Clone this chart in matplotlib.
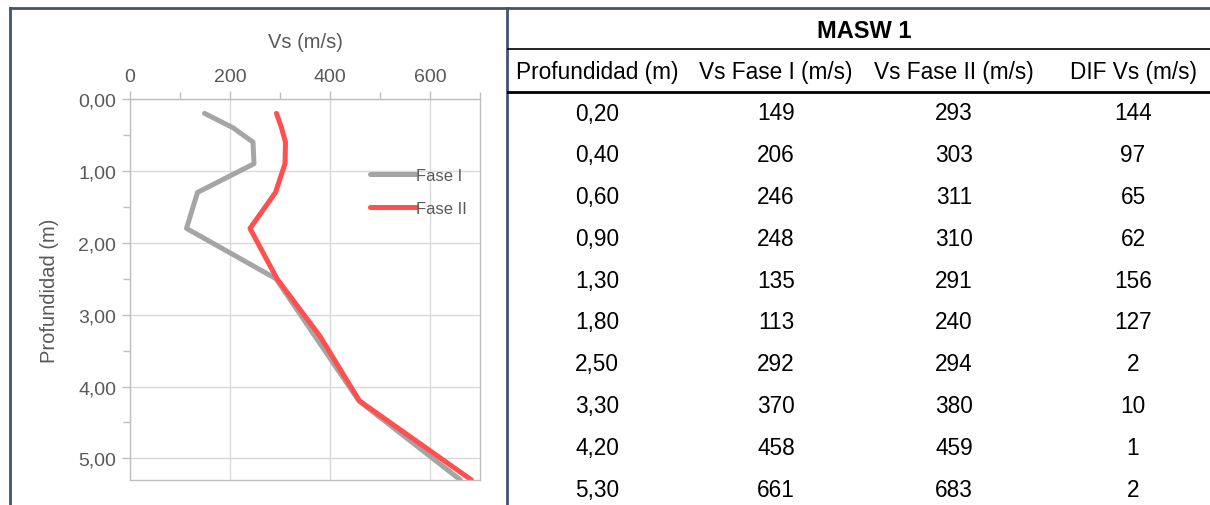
import matplotlib.pyplot as plt
from matplotlib.lines import Line2D
from matplotlib.ticker import FuncFormatter, MultipleLocator

# MASW 1 - velocidades de onda de corte por profundidad
profundidad = [0.20, 0.40, 0.60, 0.90, 1.30, 1.80, 2.50, 3.30, 4.20, 5.30]
vs_fase1 = [149, 206, 246, 248, 135, 113, 292, 370, 458, 661]
vs_fase2 = [293, 303, 311, 310, 291, 240, 294, 380, 459, 683]
dif_vs = [144, 97, 65, 62, 156, 127, 2, 10, 1, 2]

encabezados = ["Profundidad (m)", "Vs Fase I (m/s)", "Vs Fase II (m/s)", "DIF Vs (m/s)"]
titulo = "MASW 1"

W, H = 1210, 506
fig = plt.figure(figsize=(W / 100, H / 100), dpi=100)
plt.rcParams['font.family'] = ['Liberation Sans', 'DejaVu Sans']


def fx(px):
    return px / W


def fy(py):
    return 1 - py / H


gris_txt = "#595959"
gris_eje = "#BFBFBF"
azul = "#44546A"

ax = fig.add_axes([fx(130), fy(481), fx(480) - fx(130), fy(100) - fy(481)])
ax.plot(vs_fase1, profundidad, color="#A5A5A5", lw=3.6, label="Fase I", solid_capstyle="round")
ax.plot(vs_fase2, profundidad, color="#FF4F4F", lw=3.6, label="Fase II", solid_capstyle="round")

ax.set_xlim(0, 700)
ax.set_ylim(5.3, 0)
ax.xaxis.tick_top()
ax.xaxis.set_label_position("top")
ax.xaxis.set_major_locator(MultipleLocator(200))
ax.xaxis.set_minor_locator(MultipleLocator(100))
ax.yaxis.set_major_locator(MultipleLocator(1))
ax.yaxis.set_minor_locator(MultipleLocator(0.5))
ax.yaxis.set_major_formatter(FuncFormatter(lambda v, p: f"{v:.2f}".replace(".", ",")))
ax.grid(True, which="major", color="#D9D9D9", lw=1)
for s in ax.spines.values():
    s.set_color(gris_eje)
    s.set_linewidth(1)
ax.tick_params(which="both", colors=gris_eje, labelcolor=gris_txt, labelsize=14, width=1)
ax.tick_params(which="major", length=6, pad=4)
ax.tick_params(which="minor", length=5)
ax.set_xlabel("Vs (m/s)", color=gris_txt, fontsize=14.5, labelpad=15)
ax.set_ylabel("Profundidad (m)", color=gris_txt, fontsize=14.5, labelpad=14)

ax.legend(loc="center left", bbox_to_anchor=(fx(370), fy(193)), bbox_transform=fig.transFigure,
          frameon=False, fontsize=12, labelcolor=gris_txt, handlelength=2.75, handletextpad=0.0,
          borderpad=0, borderaxespad=0, labelspacing=1.05)

# marco del gráfico y de la tabla
fig.add_artist(Line2D([fx(10), fx(10)], [fy(9), 0], color=azul, lw=2))
fig.add_artist(Line2D([fx(507), fx(507)], [fy(9), 0], color=azul, lw=2))
fig.add_artist(Line2D([fx(10), 1], [fy(9), fy(9)], color=azul, lw=2))
fig.add_artist(Line2D([fx(508), 1], [fy(50), fy(50)], color="black", lw=1.2))
fig.add_artist(Line2D([fx(508), 1], [fy(93), fy(93)], color="black", lw=2))

# tabla
col_x = [597, 776, 954, 1133]
fig.text(fx(864), fy(31), titulo, ha="center", va="center", fontsize=17, fontweight="bold")
for x, t in zip(col_x, encabezados):
    fig.text(fx(x), fy(73), t, ha="center", va="center", fontsize=16.3)

for i in range(len(profundidad)):
    y = 114 + i * 41.8
    fila = [f"{profundidad[i]:.2f}".replace(".", ","), str(vs_fase1[i]), str(vs_fase2[i]), str(dif_vs[i])]
    for x, t in zip(col_x, fila):
        fig.text(fx(x), fy(y), t, ha="center", va="center", fontsize=16.3)

fig.savefig("out.png", dpi=100)
